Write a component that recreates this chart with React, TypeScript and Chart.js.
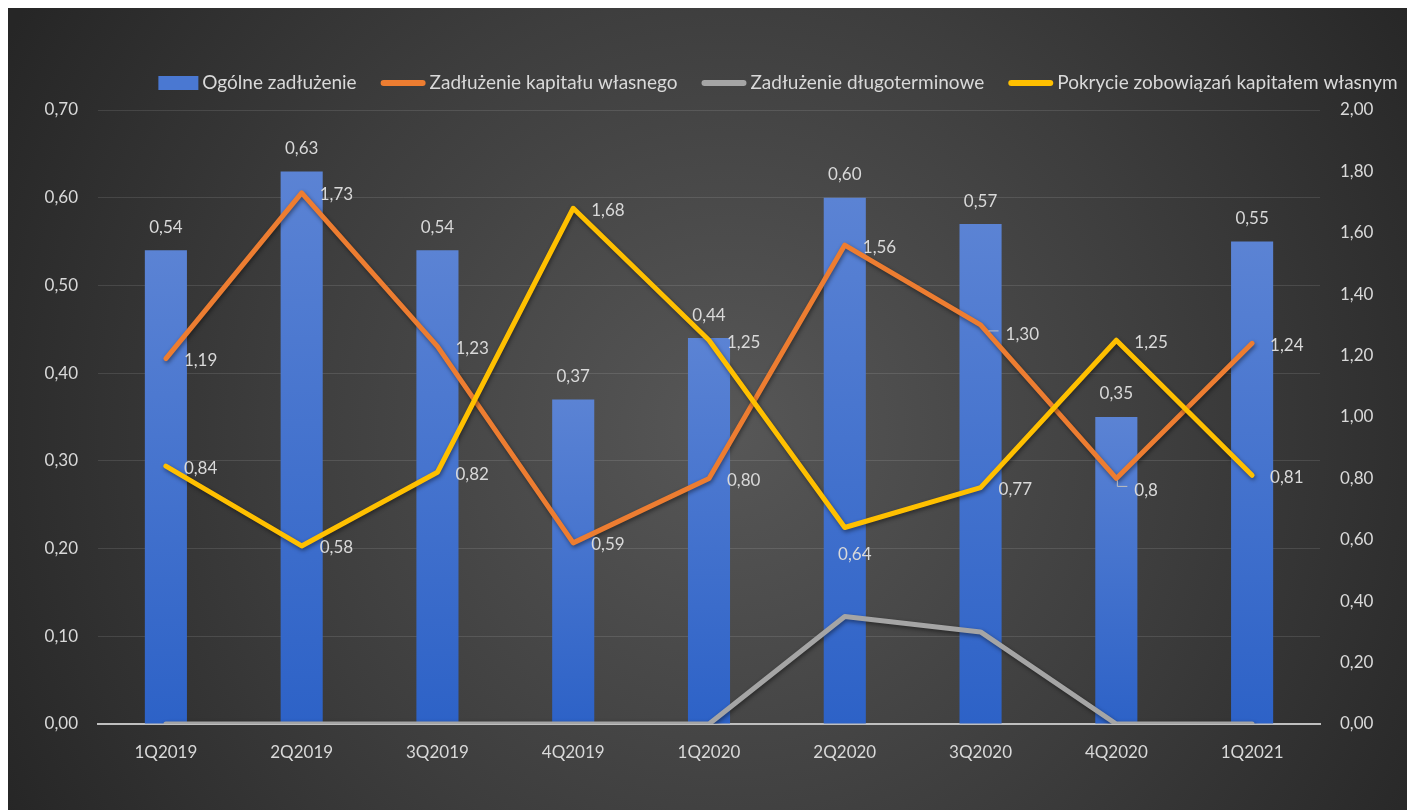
import React, { useEffect, useRef } from "react";
import { Chart, registerables } from "chart.js";

Chart.register(...registerables);

const categories = ["1Q2019", "2Q2019", "3Q2019", "4Q2019", "1Q2020", "2Q2020", "3Q2020", "4Q2020", "1Q2021"];
const ogolneZadluzenie = [0.54, 0.63, 0.54, 0.37, 0.44, 0.6, 0.57, 0.35, 0.55];
const zadluzenieKapitalu = [1.19, 1.73, 1.23, 0.59, 0.8, 1.56, 1.3, 0.8, 1.24];
const zadluzenieDlugo = [0, 0, 0, 0, 0, 0.35, 0.3, 0, 0];
const pokrycieZobowiazan = [0.84, 0.58, 0.82, 1.68, 1.25, 0.64, 0.77, 1.25, 0.81];
const kapitaluLabelText = ["1,19", "1,73", "1,23", "0,59", "0,80", "1,56", "1,30", "0,8", "1,24"];

const seriesNames = [
  "Ogólne zadłużenie",
  "Zadłużenie kapitału własnego",
  "Zadłużenie długoterminowe",
  "Pokrycie zobowiązań kapitałem własnym",
];

const FONT = "Lato, 'Noto Sans', sans-serif";
const TEXT = "#d9d9d9";
const W = 1407;
const H = 802;

const fmt = (v: number) => v.toFixed(2).replace(".", ",");

const bgPlugin = {
  id: "bgGradient",
  beforeDraw(chart: any) {
    const ctx = chart.ctx;
    ctx.save();
    const g = ctx.createRadialGradient(720, 420, 0, 720, 420, 820);
    g.addColorStop(0, "#575757");
    g.addColorStop(0.55, "#3d3d3d");
    g.addColorStop(1, "#262626");
    ctx.fillStyle = g;
    ctx.fillRect(0, 0, chart.width, chart.height);
    ctx.restore();
  },
};

const shadowPlugin = {
  id: "lineShadow",
  beforeDatasetDraw(chart: any, args: any) {
    if (chart.data.datasets[args.index].type !== "line") return;
    const ctx = chart.ctx;
    ctx.save();
    ctx.shadowColor = "rgba(0,0,0,0.45)";
    ctx.shadowBlur = 4;
    ctx.shadowOffsetX = 1;
    ctx.shadowOffsetY = 2;
  },
  afterDatasetDraw(chart: any, args: any) {
    if (chart.data.datasets[args.index].type !== "line") return;
    chart.ctx.restore();
  },
};

const legendPlugin = {
  id: "customLegend",
  afterDraw(chart: any) {
    const ctx = chart.ctx;
    ctx.save();
    ctx.font = `19px ${FONT}`;
    ctx.textBaseline = "middle";
    const y = 75;
    const sampleW = [40, 45, 45, 45];
    const items = chart.data.datasets.map((ds: any, i: number) => ({
      ds,
      w: sampleW[i] + 4 + ctx.measureText(seriesNames[i]).width,
      sw: sampleW[i],
    }));
    const gap = 24;
    const total = items.reduce((s: number, it: any) => s + it.w, 0) + gap * (items.length - 1);
    let x = 770 - total / 2;
    items.forEach((it: any, i: number) => {
      if (i === 0) {
        ctx.fillStyle = "#4a78d2";
        ctx.fillRect(x, y - 7, it.sw, 14);
      } else {
        ctx.strokeStyle = it.ds.borderColor;
        ctx.lineWidth = 6;
        ctx.lineCap = "round";
        ctx.beginPath();
        ctx.moveTo(x + 3, y);
        ctx.lineTo(x + it.sw - 3, y);
        ctx.stroke();
      }
      ctx.fillStyle = TEXT;
      ctx.textAlign = "left";
      ctx.fillText(seriesNames[i], x + it.sw + 4, y);
      x += it.w + gap;
    });
    ctx.restore();
  },
};

const labelPlugin = {
  id: "valueLabels",
  afterDatasetsDraw(chart: any) {
    const ctx = chart.ctx;
    ctx.save();
    ctx.font = `17px ${FONT}`;
    ctx.fillStyle = TEXT;
    ctx.strokeStyle = "#bfbfbf";
    ctx.lineWidth = 1;
    chart.data.datasets.forEach((ds: any, di: number) => {
      const cfg = ds.labelCfg;
      if (!cfg) return;
      const meta = chart.getDatasetMeta(di);
      meta.data.forEach((el: any, i: number) => {
        const text = cfg.text ? cfg.text[i] : fmt(ds.data[i]);
        const place = (cfg.place && cfg.place[i]) || cfg.def;
        ctx.textBaseline = "middle";
        if (place === "top") {
          ctx.textAlign = "center";
          ctx.fillText(text, el.x, el.y - 23);
        } else if (place === "right") {
          ctx.textAlign = "left";
          ctx.fillText(text, el.x + 18, el.y + 2);
        } else if (place === "below") {
          ctx.textAlign = "center";
          ctx.fillText(text, el.x + 10, el.y + 27);
        } else if (place === "leaderRight") {
          ctx.beginPath();
          ctx.moveTo(el.x + 8, el.y + 6);
          ctx.lineTo(el.x + 18, el.y + 6);
          ctx.stroke();
          ctx.textAlign = "left";
          ctx.fillText(text, el.x + 25, el.y + 10);
        } else if (place === "leaderBelow") {
          ctx.beginPath();
          ctx.moveTo(el.x + 1, el.y + 2);
          ctx.lineTo(el.x + 1, el.y + 8);
          ctx.lineTo(el.x + 11, el.y + 8);
          ctx.stroke();
          ctx.textAlign = "left";
          ctx.fillText(text, el.x + 18, el.y + 12);
        }
      });
    });
    ctx.restore();
  },
};

export default function App() {
  const ref = useRef<HTMLCanvasElement>(null);

  useEffect(() => {
    document.documentElement.style.overflow = "hidden";
    document.body.style.overflow = "hidden";
    const canvas = ref.current;
    if (!canvas) return;

    const barColor = (c: any) => {
      const chart = c.chart;
      const area = chart.chartArea;
      if (!area || c.raw === undefined) return "#4472c4";
      const yTop = chart.scales.y.getPixelForValue(c.raw);
      const g = chart.ctx.createLinearGradient(0, yTop, 0, area.bottom);
      g.addColorStop(0, "#5b83d4");
      g.addColorStop(1, "#2d62c7");
      return g;
    };

    const lineCommon = {
      type: "line" as const,
      yAxisID: "y1",
      borderWidth: 5,
      pointRadius: 0,
      pointHoverRadius: 0,
      borderJoinStyle: "round" as const,
      borderCapStyle: "round" as const,
      tension: 0,
      fill: false,
    };

    const chart = new Chart(canvas, {
      data: {
        labels: categories,
        datasets: [
          {
            type: "bar",
            label: seriesNames[0],
            data: ogolneZadluzenie,
            yAxisID: "y",
            backgroundColor: barColor,
            barPercentage: 0.31,
            categoryPercentage: 1,
            order: 10,
            labelCfg: { def: "top" },
          } as any,
          {
            ...lineCommon,
            label: seriesNames[1],
            data: zadluzenieKapitalu,
            borderColor: "#ed7d31",
            order: 3,
            labelCfg: {
              def: "right",
              text: kapitaluLabelText,
              place: { 6: "leaderRight", 7: "leaderBelow" },
            },
          } as any,
          {
            ...lineCommon,
            label: seriesNames[2],
            data: zadluzenieDlugo,
            borderColor: "#a5a5a5",
            order: 2,
          } as any,
          {
            ...lineCommon,
            label: seriesNames[3],
            data: pokrycieZobowiazan,
            borderColor: "#ffc000",
            order: 1,
            labelCfg: { def: "right", place: { 5: "below" } },
          } as any,
        ],
      },
      options: {
        responsive: false,
        animation: false,
        events: [],
        layout: { padding: { top: 102, left: 0, right: 0, bottom: 0 } },
        plugins: {
          legend: { display: false },
          tooltip: { enabled: false },
        },
        scales: {
          x: {
            offset: true,
            grid: { display: false, drawTicks: false },
            border: { display: true, color: "#bfbfbf", width: 2 },
            ticks: { color: TEXT, font: { family: FONT, size: 17 }, padding: 18, maxRotation: 0 },
            afterFit: (s: any) => {
              s.height = 86;
            },
          },
          y: {
            position: "left",
            min: 0,
            max: 0.7,
            grid: { color: "rgba(255,255,255,0.11)", lineWidth: 1, drawTicks: false },
            border: { display: false },
            ticks: {
              stepSize: 0.1,
              color: TEXT,
              font: { family: FONT, size: 17 },
              padding: 20,
              callback: (v: any) => fmt(Number(v)),
            },
            afterFit: (s: any) => {
              s.width = 90;
            },
          },
          y1: {
            position: "right",
            min: 0,
            max: 2,
            grid: { display: false, drawTicks: false },
            border: { display: false },
            ticks: {
              stepSize: 0.2,
              color: TEXT,
              font: { family: FONT, size: 17 },
              padding: 20,
              callback: (v: any) => fmt(Number(v)),
            },
            afterFit: (s: any) => {
              s.width = 95;
            },
          },
        },
      } as any,
      plugins: [bgPlugin, shadowPlugin, labelPlugin, legendPlugin],
    });

    return () => chart.destroy();
  }, []);

  return (
    <div style={{ width: W, height: H }}>
      <canvas ref={ref} width={W} height={H} style={{ display: "block", width: W, height: H }} />
    </div>
  );
}
